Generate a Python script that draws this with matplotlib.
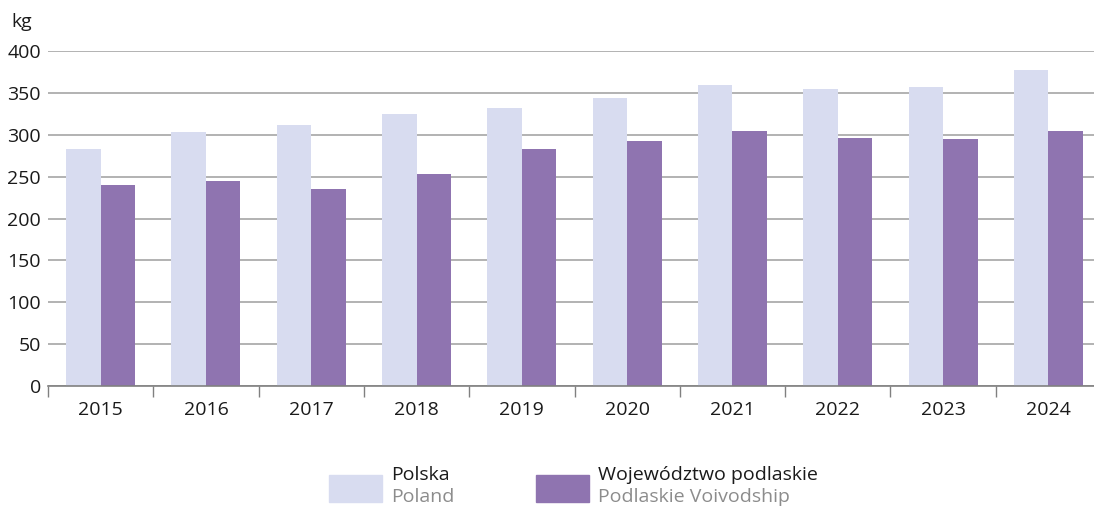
import matplotlib.pyplot as plt
import matplotlib.patches as mpatches
import numpy as np

plt.rcParams['font.family'] = ['Open Sans', 'DejaVu Sans']

# Data
years = ["2015", "2016", "2017", "2018", "2019", "2020", "2021", "2022", "2023", "2024"]
polska = [283, 303, 312, 325, 332, 344, 359, 355, 357, 377]
podlaskie = [240, 245, 235, 253, 283, 292, 304, 296, 295, 304]

yticks = [0, 50, 100, 150, 200, 250, 300, 350, 400]

colPL = "#d8dcf0"
colPD = "#8f74b0"
gridCol = "#a6a6a6"
txtCol = "#1a1a1a"

fig = plt.figure(figsize=(10.94, 5.07), dpi=100)
# the plot area runs slightly past the right edge of the picture
ax = fig.add_axes([48 / 1094, 1 - 386 / 507, 1053 / 1094, (386 - 51) / 507])

x = np.arange(len(years))
w = 0.328
ax.bar(x - w / 2, polska, width=w, color=colPL, zorder=2)
ax.bar(x + w / 2, podlaskie, width=w, color=colPD, zorder=2)

ax.set_xlim(-0.5, len(years) - 0.5)
ax.set_ylim(0, 400)
ax.set_yticks(yticks)
ax.yaxis.grid(True, color=gridCol, linewidth=1.2, zorder=1)
ax.set_axisbelow(True)

# ticks between groups, labels at group centres
ax.set_xticks(np.arange(len(years) + 1) - 0.5)
ax.set_xticklabels([])
ax.set_xticks(x, minor=True)
ax.set_xticklabels(years, minor=True)
ax.tick_params(axis='x', which='major', length=8, width=1, color="#808080", direction='out')
ax.tick_params(axis='x', which='minor', length=0, labelsize=14, pad=11, colors=txtCol)
ax.tick_params(axis='y', length=0, labelsize=14, pad=5, colors=txtCol)

for s in ["top", "right", "left"]:
    ax.spines[s].set_visible(False)
ax.spines["bottom"].set_color("#808080")
ax.spines["bottom"].set_linewidth(1.2)
ax.spines["bottom"].set_zorder(3)

fig.text(11 / 1094, 1 - 22 / 507, "kg", fontsize=14, color=txtCol, va="center", ha="left")

# legend drawn by hand
def legendItem(px, label, sublabel, color):
    fig.patches.append(mpatches.Rectangle((px / 1094, 1 - 502 / 507), 53 / 1094, 27 / 507,
                                          transform=fig.transFigure, color=color))
    fig.text((px + 62) / 1094, 1 - 475 / 507, label, fontsize=14, color=txtCol, va="center", ha="left")
    fig.text((px + 62) / 1094, 1 - 497 / 507, sublabel, fontsize=14, color="#8c8c8c", va="center", ha="left")

legendItem(329, "Polska", "Poland", colPL)
legendItem(536, "Województwo podlaskie", "Podlaskie Voivodship", colPD)

fig.savefig("out.png", dpi=100)
